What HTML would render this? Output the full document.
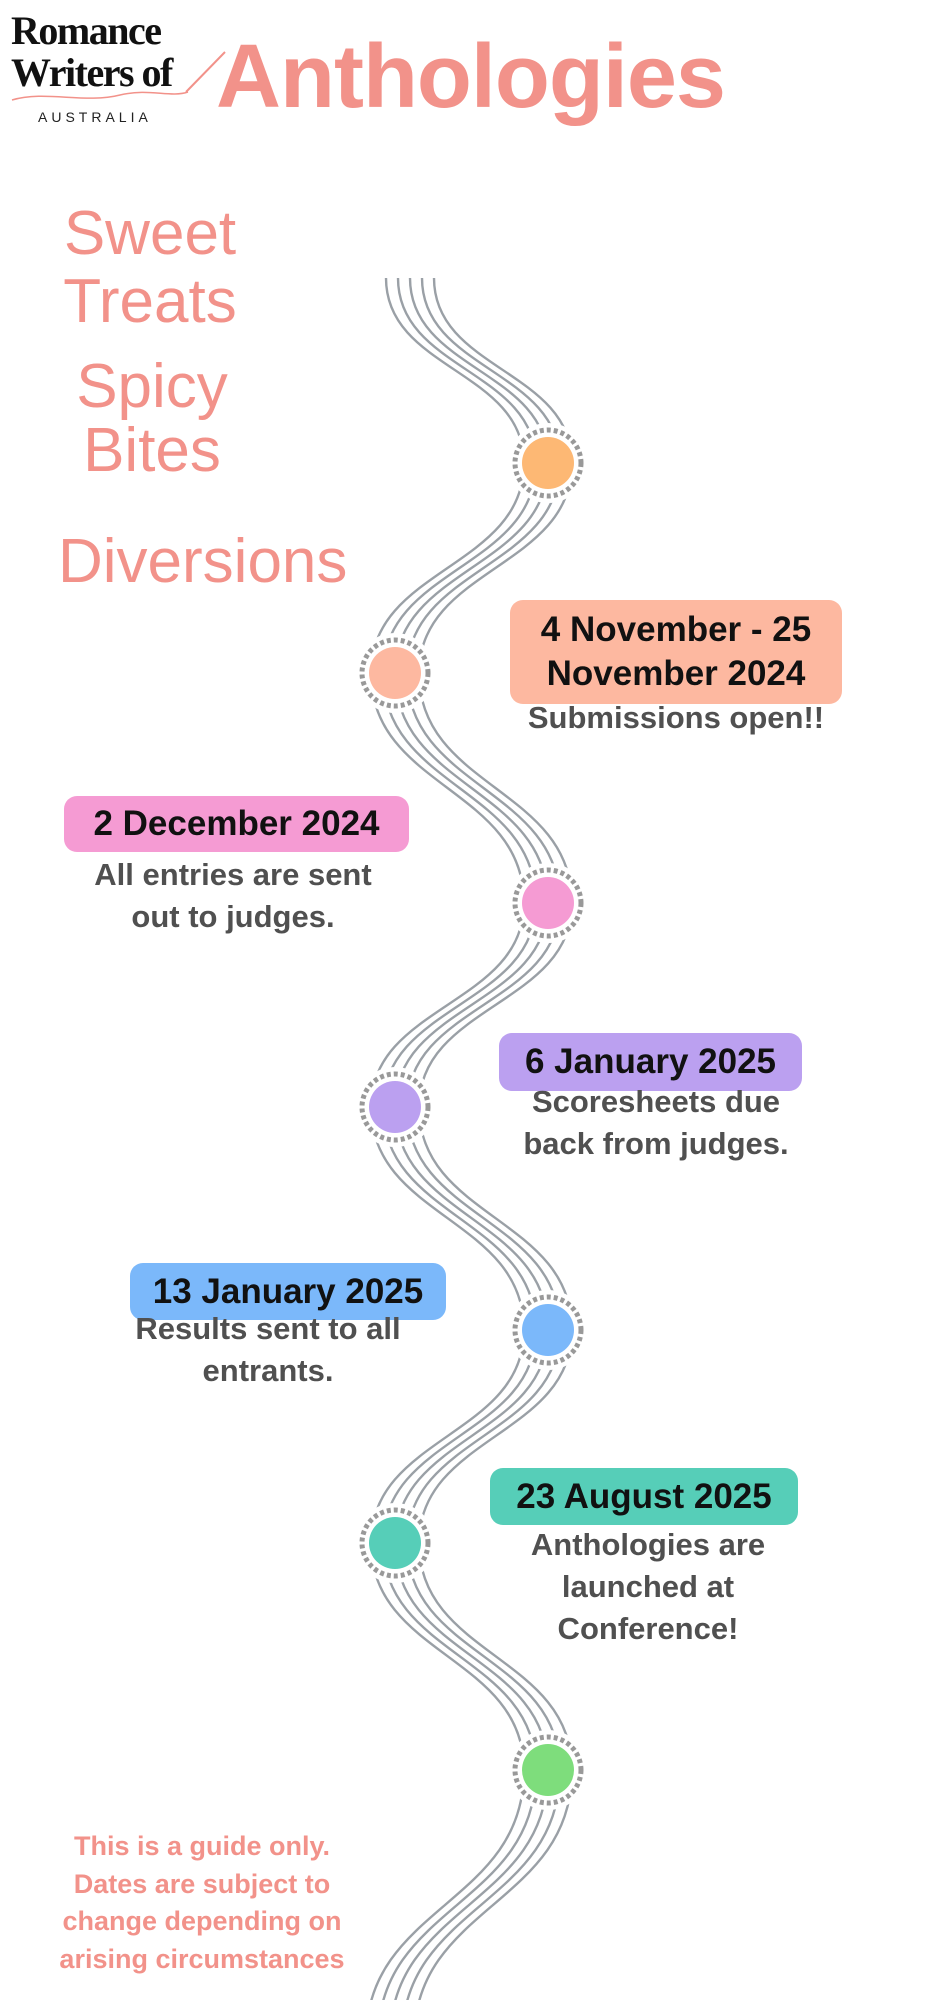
<!DOCTYPE html>
<html><head><meta charset="utf-8"><style>
html,body{margin:0;padding:0;background:#fff}
body{width:943px;height:2000px;position:relative;overflow:hidden;font-family:"Liberation Sans",sans-serif}
.a{position:absolute;white-space:nowrap}
.pk{color:#F2928A}
.big{font-size:62px;text-align:center}
.box{position:absolute;border-radius:13px;color:#111;font-weight:bold;font-size:35px;text-align:center;display:flex;align-items:center;justify-content:center;line-height:1.25;white-space:nowrap}
.t{position:absolute;color:#505050;font-weight:bold;font-size:31px;text-align:center;line-height:42px;white-space:nowrap;transform:translateX(-50%)}
</style></head><body>
<svg class="a" style="left:0;top:0" width="943" height="2000">
<g fill="none" stroke="#9aa0a6" stroke-width="2.4">
<path id="w" d="M410,278 C410,370 548,370 548,463 C548,568 395,568 395,673 C395,788 548,788 548,903 C548,1005 395,1005 395,1107 C395,1218 548,1218 548,1330 C548,1436 395,1436 395,1543 C395,1656 548,1656 548,1770 C548,1905 390,1905 390,2040"/>
<use href="#w" x="-24"/><use href="#w" x="-12"/><use href="#w" x="12"/><use href="#w" x="24"/>
</g>
<g>
<g transform="translate(548,463)"><circle r="40" fill="#fff"/><circle r="33" fill="none" stroke="#999" stroke-width="5" stroke-dasharray="4 3"/><circle r="26" fill="#FDB874"/></g>
<g transform="translate(395,673)"><circle r="40" fill="#fff"/><circle r="33" fill="none" stroke="#999" stroke-width="5" stroke-dasharray="4 3"/><circle r="26" fill="#FDB8A0"/></g>
<g transform="translate(548,903)"><circle r="40" fill="#fff"/><circle r="33" fill="none" stroke="#999" stroke-width="5" stroke-dasharray="4 3"/><circle r="26" fill="#F59BD3"/></g>
<g transform="translate(395,1107)"><circle r="40" fill="#fff"/><circle r="33" fill="none" stroke="#999" stroke-width="5" stroke-dasharray="4 3"/><circle r="26" fill="#BBA0F0"/></g>
<g transform="translate(548,1330)"><circle r="40" fill="#fff"/><circle r="33" fill="none" stroke="#999" stroke-width="5" stroke-dasharray="4 3"/><circle r="26" fill="#7BB8FA"/></g>
<g transform="translate(395,1543)"><circle r="40" fill="#fff"/><circle r="33" fill="none" stroke="#999" stroke-width="5" stroke-dasharray="4 3"/><circle r="26" fill="#56CEB8"/></g>
<g transform="translate(548,1770)"><circle r="40" fill="#fff"/><circle r="33" fill="none" stroke="#999" stroke-width="5" stroke-dasharray="4 3"/><circle r="26" fill="#7EDD7C"/></g>
</g>
<path d="M12,100 C45,90 85,104 120,95 C150,88 170,98 188,92" fill="none" stroke="#F2928A" stroke-width="1.5"/>
<path d="M186,92 L225,52" stroke="#F2928A" stroke-width="2" fill="none"/>
</svg>
<div class="a" style="left:11px;top:10px;font-family:'Liberation Serif',serif;font-weight:bold;font-size:40px;letter-spacing:-1.5px;line-height:42px;color:#111">Romance<br>Writers of</div>
<div class="a" style="left:38px;top:109px;font-size:14px;letter-spacing:4px;color:#222">AUSTRALIA</div>
<div class="a pk" style="left:216px;top:26px;font-size:90px;font-weight:bold;letter-spacing:-1px">Anthologies</div>
<div class="a pk big" style="left:40px;top:200px;width:220px;line-height:68px">Sweet<br>Treats</div>
<div class="a pk big" style="left:42px;top:355px;width:220px;line-height:64px">Spicy<br>Bites</div>
<div class="a pk big" style="left:58px;top:526px">Diversions</div>
<div class="box" style="left:510px;top:600px;width:332px;height:104px;background:#FDB8A0">4 November - 25<br>November 2024</div>
<div class="t" style="left:676px;top:697px">Submissions open!!</div>
<div class="box" style="left:64px;top:796px;width:345px;height:56px;background:#F59BD3">2 December 2024</div>
<div class="t" style="left:233px;top:854px">All entries are sent<br>out to judges.</div>
<div class="box" style="left:499px;top:1033px;width:303px;height:58px;background:#BBA0F0">6 January 2025</div>
<div class="t" style="left:656px;top:1081px">Scoresheets due<br>back from judges.</div>
<div class="box" style="left:130px;top:1263px;width:316px;height:57px;background:#7BB8FA">13 January 2025</div>
<div class="t" style="left:268px;top:1308px">Results sent to all<br>entrants.</div>
<div class="box" style="left:490px;top:1468px;width:308px;height:57px;background:#56CEB8">23 August 2025</div>
<div class="t" style="left:648px;top:1524px">Anthologies are<br>launched at<br>Conference!</div>
<div class="t pk" style="left:202px;top:1828px;font-size:27px;line-height:37.5px;color:#F2928A">This is a guide only.<br>Dates are subject to<br>change depending on<br>arising circumstances</div>
</body></html>
